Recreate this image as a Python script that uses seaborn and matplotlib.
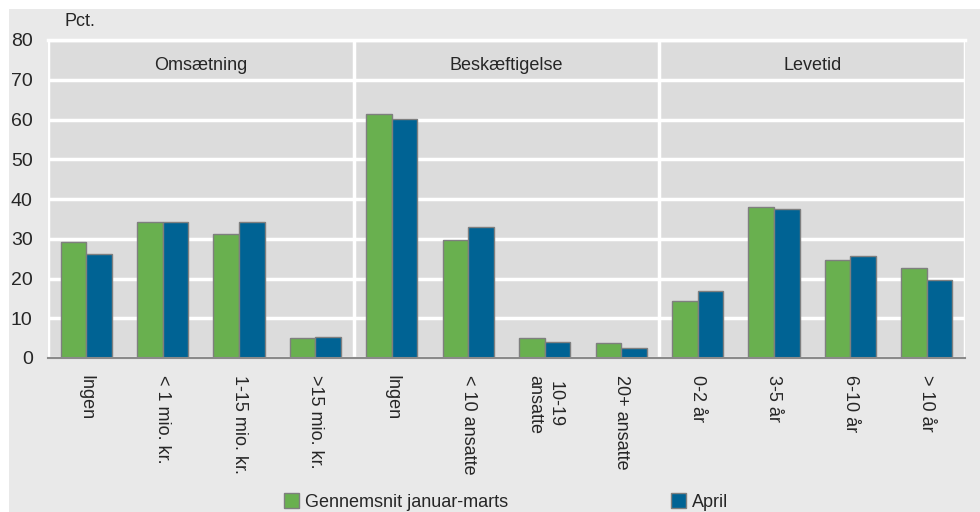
import matplotlib
matplotlib.use("Agg")
import matplotlib.pyplot as plt
import seaborn as sns
import pandas as pd
from matplotlib.patches import Rectangle

groups = ["Omsætning", "Beskæftigelse", "Levetid"]
group_sizes = [4, 4, 4]
categories = ["Ingen", "< 1 mio. kr.", "1-15 mio. kr.", ">15 mio. kr.",
              "Ingen", "< 10 ansatte", "10-19\nansatte", "20+ ansatte",
              "0-2 år", "3-5 år", "6-10 år", "> 10 år"]
series = ["Gennemsnit januar-marts", "April"]
jan_mar = [29.3, 34.3, 31.3, 5.0, 61.5, 29.7, 5.0, 3.7, 14.4, 38.0, 24.7, 22.6]
april = [26.2, 34.2, 34.2, 5.2, 60.1, 33.0, 3.9, 2.4, 16.9, 37.5, 25.7, 19.5]

keys = [f"{i}" for i in range(len(categories))]
df = pd.DataFrame({
    "key": keys * 2,
    "serie": [series[0]] * len(keys) + [series[1]] * len(keys),
    "pct": jan_mar + april,
})

sns.set_style("white")
plt.rcParams["font.family"] = ["Liberation Sans", "DejaVu Sans"]

fig = plt.figure(figsize=(9.8, 5.12), dpi=100, facecolor="white")
fig.patches.append(Rectangle((9 / 980, 0), 1, 503 / 512, transform=fig.transFigure,
                             facecolor="#e9e9e9", edgecolor="none", zorder=-10))
ax = fig.add_axes([48 / 980, 1 - 358 / 512, 917 / 980, 318 / 512])
ax.set_facecolor("#dcdcdc")

sns.barplot(data=df, x="key", y="pct", hue="serie", order=keys, hue_order=series,
            palette=["#69b04f", "#006394"], saturation=1, edgecolor="#7f7f7f",
            linewidth=1, width=0.67, ax=ax, legend=True)

ax.set_ylim(0, 80)
ax.set_xlim(-0.5, len(keys) - 0.5)
ax.set_yticks(range(0, 81, 10))
ax.tick_params(axis="y", labelsize=14, length=0, pad=11)
ax.tick_params(axis="x", length=0, pad=12)
ax.set_xticks(range(len(keys)))
ax.set_xticklabels(categories, rotation=270, fontsize=13, va="top", ha="center",
                   multialignment="center", linespacing=1.3)
ax.set_xlabel("")
ax.set_ylabel("")
ax.yaxis.grid(True, color="white", linewidth=2.5)
ax.set_axisbelow(True)
for s in ["right", "left"]:
    ax.spines[s].set_visible(False)
ax.spines["bottom"].set_color("#8a8a8a")
ax.spines["bottom"].set_linewidth(1.5)
ax.spines["top"].set_color("white")
ax.spines["top"].set_linewidth(2.5)

# group separators and labels
start = 0
for g, n in zip(groups, group_sizes):
    ax.text(start + n / 2 - 0.5, 73.5, g, ha="center", va="center", fontsize=13)
    if start > 0:
        ax.axvline(start - 0.5, color="white", linewidth=2.5, zorder=0.5)
    start += n
ax.axvline(len(keys) - 0.5, color="white", linewidth=2.5, zorder=0.5)
ax.axvline(-0.5, color="white", linewidth=2.5, zorder=0.5)

fig.text(64 / 980, 1 - 22 / 512, "Pct.", ha="left", va="center", fontsize=13)

handles, labels = ax.get_legend_handles_labels()
ax.get_legend().remove()
for h, l, x0 in zip(handles, labels, [268 / 980, 655 / 980]):
    fig.legend([h], [l], loc="lower left", bbox_to_anchor=(x0, -0.03),
               frameon=False, fontsize=13, handlelength=0.8, handleheight=0.9,
               handletextpad=0.35)

fig.savefig("out.png", dpi=100, facecolor="white")
